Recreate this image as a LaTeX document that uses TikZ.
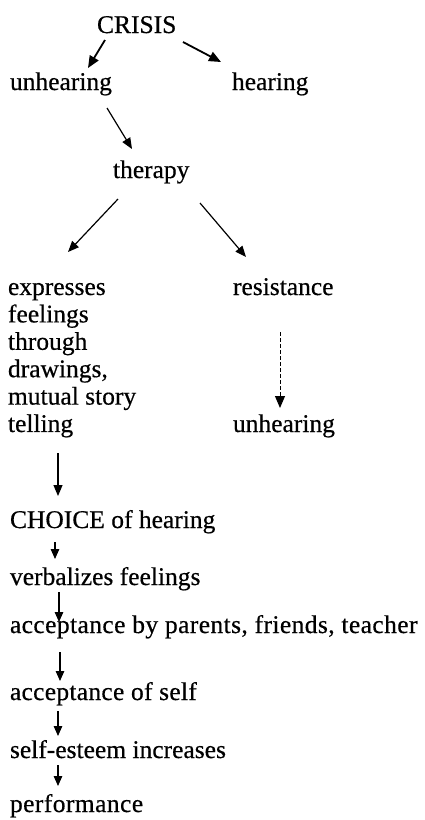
\documentclass[tikz,border=0pt]{standalone}
\usepackage{fontspec}
\setmainfont[FakeBold=0.5]{Liberation Serif}
\usetikzlibrary{arrows.meta,calc}
\tikzset{
  lbl/.style={inner sep=0pt, outer sep=0pt, anchor=base west, font=\fontsize{25.5}{27.4}\selectfont},
  arr/.style={line width=1.2pt, -{Triangle[length=11pt,width=9pt]}},
  thick arr/.style={line width=1.8pt, -{Triangle[length=12pt,width=10pt]}},
  small arr/.style={line width=1.2pt, -{Triangle[length=10pt,width=8.5pt]}},
  dash arr/.style={line width=1pt, dash pattern=on 4pt off 2pt, -{Triangle[length=12pt,width=10pt]}}
}
\begin{document}
\begin{tikzpicture}[x=1pt,y=-1pt]
\useasboundingbox (0,0) rectangle (424,820);
\node[lbl] (crisis) at (97,33) {CRISIS};
\node[lbl] (unh1) at (10,90) {unhearing};
\node[lbl] (hear) at (232,90) {hearing};
\node[lbl] (ther) at (113,178) {therapy};
\node[lbl, anchor=north west, align=left] (expr) at (8,275.8) {\strut expresses\\feelings\\through\\drawings,\\mutual story\\telling};
\node[lbl] (resist) at (233,295) {resistance};
\node[lbl] (unh2) at (233,432) {unhearing};
\node[lbl] (choice) at (10,528) {CHOICE of hearing};
\node[lbl] (verb) at (10,585) {verbalizes feelings};
\node[lbl] (accp) at (10,633) {\addfontfeature{LetterSpace=1.6}acceptance by parents, friends, teacher};
\node[lbl] (self) at (10,700) {\addfontfeature{LetterSpace=1.1}acceptance of self};
\node[lbl] (este) at (10,758) {self-esteem increases};
\node[lbl] (perf) at (10,812) {\addfontfeature{LetterSpace=1.7}performance};

\draw[thick arr] ($(crisis.base west)+(8,7)$) -- ($(unh1.base west)+(78,-22)$);
\draw[thick arr] ($(crisis.base west)+(86,9)$) -- ($(hear.base west)+(-11,-28)$);
\draw[arr] ($(unh1.base west)+(97,18)$) -- ($(ther.base west)+(19,-29)$);
\draw[arr] ($(ther.base west)+(5,21)$) -- ($(expr.north west)+(60,-23.8)$);
\draw[arr] ($(ther.base west)+(87,25)$) -- ($(resist.base west)+(13,-38)$);
\draw[dash arr] ($(resist.base west)+(47,37)$) -- ($(unh2.base west)+(47,-24)$);
\draw[arr] ($(expr.north west)+(50,177.2)$) -- ($(choice.base west)+(48,-32)$);
\draw[small arr] ($(choice.base west)+(45,14)$) -- ($(verb.base west)+(45,-26)$);
\draw[small arr] ($(verb.base west)+(49,7)$) -- ($(accp.base west)+(49,-11)$);
\draw[small arr] ($(accp.base west)+(50,19)$) -- ($(self.base west)+(50,-19)$);
\draw[small arr] ($(self.base west)+(48,11)$) -- ($(este.base west)+(48,-22)$);
\draw[small arr] ($(este.base west)+(48,7)$) -- ($(perf.base west)+(48,-26)$);
\end{tikzpicture}
\end{document}
